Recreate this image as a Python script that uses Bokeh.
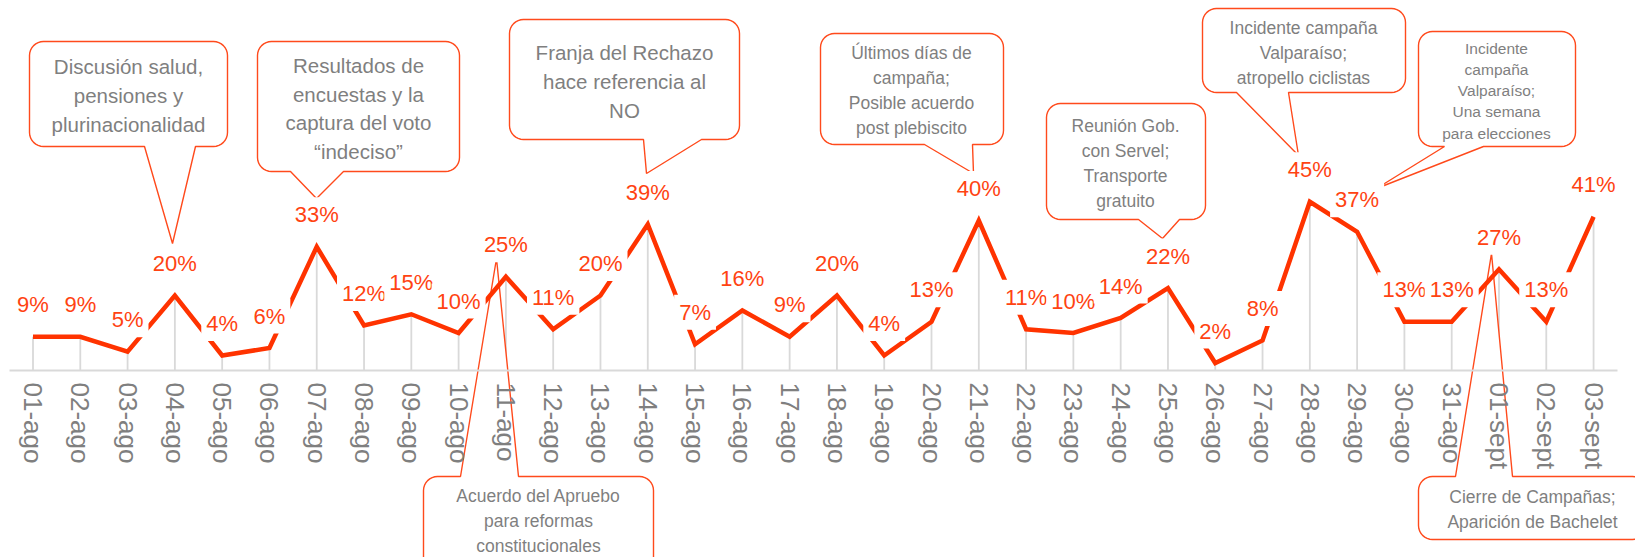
import math
from bokeh.plotting import figure
from bokeh.models import Range1d, LinearAxis, FixedTicker, ColumnDataSource
from bokeh.core.properties import value
from bokeh.embed import file_html
from bokeh.resources import INLINE

# ---------------- data ----------------
dates = ["01-ago", "02-ago", "03-ago", "04-ago", "05-ago", "06-ago", "07-ago",
         "08-ago", "09-ago", "10-ago", "11-ago", "12-ago", "13-ago", "14-ago",
         "15-ago", "16-ago", "17-ago", "18-ago", "19-ago", "20-ago", "21-ago",
         "22-ago", "23-ago", "24-ago", "25-ago", "26-ago", "27-ago", "28-ago",
         "29-ago", "30-ago", "31-ago", "01-sept", "02-sept", "03-sept"]
values = [9, 9, 5, 20, 4, 6, 33, 12, 15, 10, 25, 11, 20, 39, 7, 16, 9, 20, 4, 13,
          40, 11, 10, 14, 22, 2, 8, 45, 37, 13, 13, 27, 13, 41]
value_labels = [f"{v}%" for v in values]

callout_texts = [
    "Discusión salud,\npensiones y\nplurinacionalidad",
    "Resultados de\nencuestas y la\ncaptura del voto\n“indeciso”",
    "Franja del Rechazo\nhace referencia al\nNO",
    "Últimos días de\ncampaña;\nPosible acuerdo\npost plebiscito",
    "Reunión Gob.\ncon Servel;\nTransporte\ngratuito",
    "Incidente campaña\nValparaíso;\natropello ciclistas",
    "Incidente\ncampaña\nValparaíso;\nUna semana\npara elecciones",
    "Acuerdo del Apruebo\npara reformas\nconstitucionales",
    "Cierre de Campañas;\nAparición de Bachelet",
]

# ---------------- layout (pixel geometry) ----------------
W, H = 1635, 557
PAGE = 0
PX0, DX = 32.5, 47.29    # pixel x of first category, spacing
PY0, DY = 370.0, 3.75    # pixel y of zero, pixels per percent

def dx(X):
    return (X - PX0) / DX

def dy(Y):
    return (PY0 - Y) / DY

# left, top, right, bottom, pointer edge, base x0, base x1, tip x, tip y, font px, text cx, text cy
callout_geom = [
    (29, 41, 227, 146, "bottom", 144, 195, 172, 243, 20.5, 128, 95),
    (257, 41, 459, 171, "bottom", 290, 343, 316, 198, 20.5, 358, 108),
    (509, 19, 739, 139, "bottom", 643, 701, 646, 173, 20.5, 624, 81),
    (820, 33, 1003, 144, "bottom", 924, 972, 973, 173, 17.5, 911, 90),
    (1046, 103, 1205, 219, "bottom", 1138, 1179, 1162, 238, 17.5, 1125, 163),
    (1202, 8, 1405, 92, "bottom", 1236, 1288, 1298, 155, 17.5, 1303, 52),
    (1418, 31, 1575, 146, "bottom", 1444, 1483, 1376, 188, 15.5, 1496, 90),
    (423, 476, 653, 585, "top", 460, 518, 496, 258, 17.5, 538, 520),
    (1418, 476, 1646, 539, "top", 1455, 1512, 1491, 253, 17.5, 1532, 509),
]

LINE_C = "#FF3300"
LABEL_C = "#FF4312"
BORDER_C = "#FF4A1C"
TEXT_C = "#7F7F7F"
GRID_C = "#D9D9D9"
FONT = "Liberation Sans"


def callout_poly(l, t, r, b, edge, bx0, bx1, tx, ty, rad=14):
    pts = []

    def arc(cx, cy, a0, a1, n=8):
        for k in range(n + 1):
            a = math.radians(a0 + (a1 - a0) * k / n)
            pts.append((cx + rad * math.cos(a), cy + rad * math.sin(a)))

    arc(l + rad, t + rad, 180, 270)
    if edge == "top":
        pts.extend([(bx0, t), (tx, ty), (bx1, t)])
    arc(r - rad, t + rad, 270, 360)
    arc(r - rad, b - rad, 0, 90)
    if edge == "bottom":
        pts.extend([(bx1, b), (tx, ty), (bx0, b)])
    arc(l + rad, b - rad, 90, 180)
    return [dx(x) for x, _ in pts], [dy(y) for _, y in pts]


p = figure(width=W, height=H,
           x_range=Range1d(dx(PAGE), dx(PAGE + W)),
           y_range=Range1d(dy(PAGE + H), dy(PAGE)),
           x_axis_type=None, y_axis_type=None,
           toolbar_location=None, output_backend="svg", min_border=0)
p.outline_line_color = None
p.background_fill_color = "white"
p.border_fill_color = "white"

idx = list(range(len(dates)))

# drop lines
p.segment(x0=idx, y0=[0] * len(idx), x1=idx, y1=values,
          line_color=GRID_C, line_width=1.8)

# callout shapes
xs, ys = [], []
for g in callout_geom:
    px, py = callout_poly(*g[:9])
    xs.append(px)
    ys.append(py)
p.patches(xs=xs, ys=ys, fill_color="white", line_color=BORDER_C, line_width=1.4)

# main line
p.line(x=idx, y=values, line_color=LINE_C, line_width=4.5, line_join="miter")

# data labels
lab_src = ColumnDataSource(dict(x=idx, y=[v + 32 / DY for v in values], t=value_labels))
p.text(x="x", y="y", text="t", source=lab_src,
       text_font=value(FONT), text_font_size="22px", text_color=LABEL_C,
       text_align="center", text_baseline="middle",
       background_fill_color="white", padding=5)

# callout texts
ct_src = ColumnDataSource(dict(
    x=[dx(g[10]) for g in callout_geom],
    y=[dy(g[11]) for g in callout_geom],
    t=callout_texts,
    fs=[f"{g[9]}px" for g in callout_geom],
))
p.text(x="x", y="y", text="t", source=ct_src,
       text_font=value(FONT), text_font_size="fs", text_color=TEXT_C,
       text_align="center", text_baseline="middle", text_line_height=1.25)

# x axis at zero
xaxis = LinearAxis(ticker=FixedTicker(ticks=idx),
                   major_label_overrides={i: d for i, d in enumerate(dates)},
                   fixed_location=0, bounds=(-0.5, len(dates) - 0.5))
xaxis.axis_line_color = GRID_C
xaxis.axis_line_width = 2.2
xaxis.major_tick_line_color = None
xaxis.minor_tick_line_color = None
xaxis.major_label_orientation = "vertical"
xaxis.major_label_text_color = TEXT_C
xaxis.major_label_text_font = FONT
xaxis.major_label_text_font_size = "26px"
xaxis.major_label_standoff = 6
p.add_layout(xaxis, "below")

open("out.html", "w").write(file_html(p, INLINE))
